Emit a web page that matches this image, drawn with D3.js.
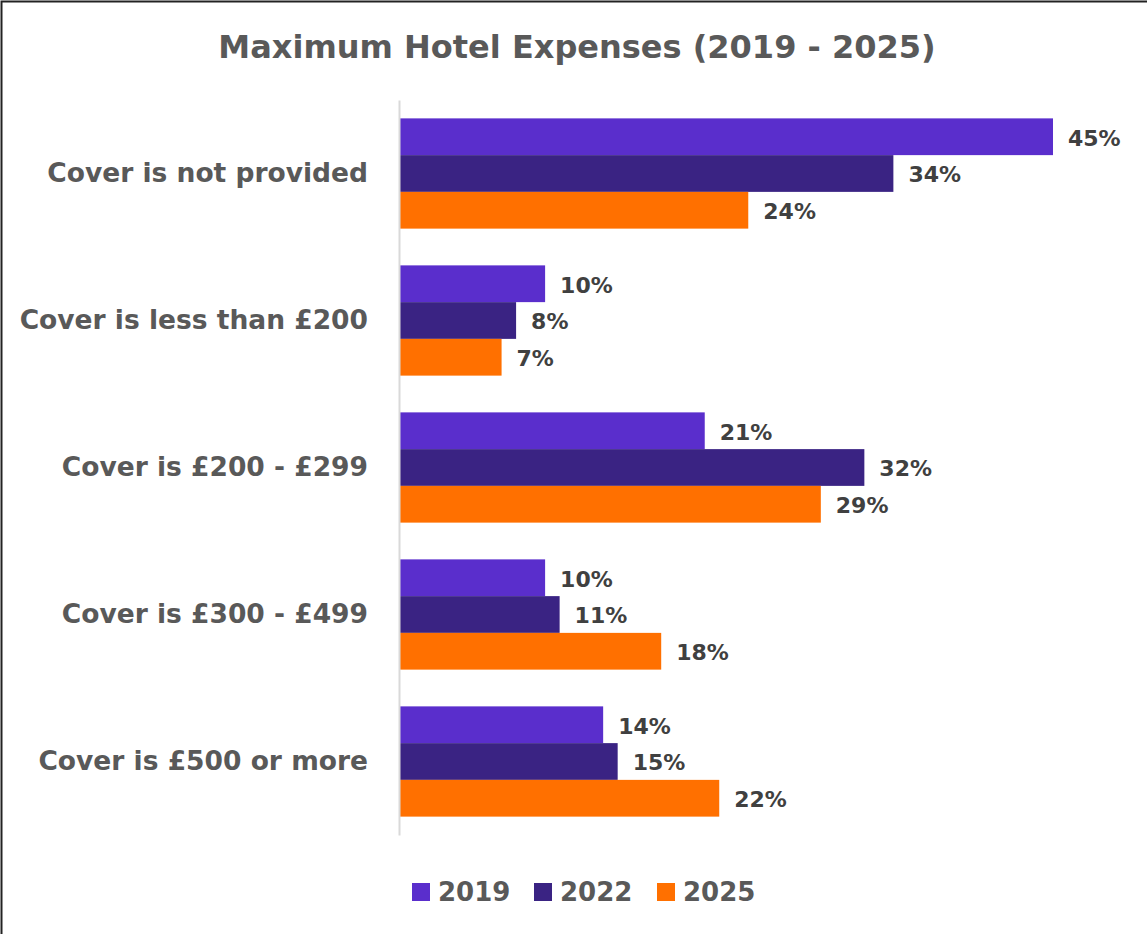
<!DOCTYPE html>
<html lang="en">
<head>
  <meta charset="UTF-8">
  <title>Maximum Hotel Expenses (2019 - 2025)</title>
  <style>
    html, body {
      margin: 0;
      padding: 0;
      background: #fff;
    }
    svg text {
      font-family: 'Century Gothic', 'DejaVu Sans', sans-serif;
      font-weight: bold;
    }
  </style>
  <script src="https://d3js.org/d3.v7.min.js"></script>
</head>
<body>
  <div id="chart"></div>

  <script>
    const categories = [
      "Cover is not provided",
      "Cover is less than £200",
      "Cover is £200 - £299",
      "Cover is £300 - £499",
      "Cover is £500 or more"
    ];
    const seriesNames = ["2019", "2022", "2025"];
    const values2019 = [45, 10, 21, 10, 14];
    const values2022 = [34, 8, 32, 11, 15];
    const values2025 = [24, 7, 29, 18, 22];
    const seriesColors = ["#5a2ecc", "#3a2383", "#ff7000"];

    const width = 1147;
    const height = 934;

    const series = [values2019, values2022, values2025];
    const rows = categories.map((c, i) => ({
      category: c,
      values: seriesNames.map((s, j) => ({ key: s, value: series[j][i] }))
    }));

    const svg = d3.select("#chart")
      .append("svg")
      .attr("width", width)
      .attr("height", height);

    // frame (only left and top edges fall inside the picture)
    svg.append("rect")
      .attr("x", 1.5)
      .attr("y", 1.5)
      .attr("width", width + 10)
      .attr("height", height + 10)
      .attr("fill", "none")
      .attr("stroke", "#222")
      .attr("stroke-width", 2);

    svg.append("text")
      .attr("x", 577)
      .attr("y", 58)
      .attr("text-anchor", "middle")
      .style("font-size", "32px")
      .style("fill", "#595959")
      .text("Maximum Hotel Expenses (2019 - 2025)");

    const x = d3.scaleLinear()
      .domain([0, 45])
      .range([400, 1053]);

    const y0 = d3.scaleBand()
      .domain(categories)
      .range([100, 835])
      .paddingInner(0.25)
      .paddingOuter(0.125);

    const y1 = d3.scaleBand()
      .domain(seriesNames)
      .range([0, y0.bandwidth()]);

    const color = d3.scaleOrdinal()
      .domain(seriesNames)
      .range(seriesColors);

    const groups = svg.selectAll("g.group")
      .data(rows)
      .join("g")
      .attr("class", "group")
      .attr("transform", d => `translate(0,${y0(d.category)})`);

    groups.selectAll("rect")
      .data(d => d.values)
      .join("rect")
      .attr("x", x(0))
      .attr("y", d => y1(d.key))
      .attr("width", d => x(d.value) - x(0))
      .attr("height", y1.bandwidth())
      .attr("fill", d => color(d.key));

    groups.selectAll("text.value")
      .data(d => d.values)
      .join("text")
      .attr("class", "value")
      .attr("x", d => x(d.value) + 15)
      .attr("y", d => y1(d.key) + y1.bandwidth() / 2 + 1)
      .attr("dy", "0.36em")
      .style("font-size", "22px")
      .style("fill", "#404040")
      .text(d => d.value + "%");

    // category axis
    const yAxis = svg.append("g")
      .attr("transform", `translate(${x(0) - 1},0)`)
      .call(d3.axisLeft(y0).tickSize(0).tickPadding(31));

    yAxis.select(".domain")
      .attr("stroke", "#d9d9d9")
      .attr("stroke-width", 2);

    yAxis.selectAll("text")
      .style("font-size", "26.5px")
      .style("fill", "#595959")
      .style("font-family", "'Century Gothic', 'DejaVu Sans', sans-serif")
      .style("font-weight", "bold");

    // legend
    const legendX = [412, 534, 657];
    const legend = svg.selectAll("g.legend")
      .data(seriesNames)
      .join("g")
      .attr("class", "legend")
      .attr("transform", (d, i) => `translate(${legendX[i]},883)`);

    legend.append("rect")
      .attr("width", 18)
      .attr("height", 18)
      .attr("fill", d => color(d));

    legend.append("text")
      .attr("x", 26)
      .attr("y", 9)
      .attr("dy", "0.36em")
      .style("font-size", "26px")
      .style("fill", "#595959")
      .text(d => d);
  </script>
</body>
</html>
